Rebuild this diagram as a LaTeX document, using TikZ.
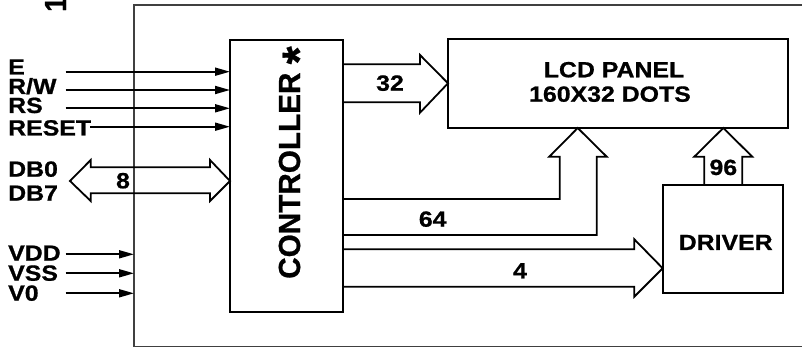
\documentclass[tikz,border=0pt]{standalone}
\usepackage{fontspec}
\setmainfont{Liberation Sans}[BoldFeatures={FakeBold=0.8}]
\usetikzlibrary{arrows.meta,calc}
\newcommand{\hs}[1]{\scalebox{1.13}[1]{#1}}
\newcommand{\vs}[1]{\scalebox{1.1}[1.13]{#1}}
\begin{document}
\begin{tikzpicture}[x=1pt,y=-1pt,
  box/.style={draw, line width=1.8pt, inner sep=0pt, outer sep=0pt},
  lbl/.style={font=\fontsize{22}{22}\selectfont\bfseries, inner sep=0pt, anchor=base west},
  num/.style={font=\fontsize{22}{22}\selectfont\bfseries, inner sep=0pt, anchor=base},
  sig/.style={line width=1.8pt, -{Triangle[length=15pt,width=8pt]}},
  bus/.style={line width=1.8pt, line join=miter},
  frm/.style={line width=1.5pt, draw=black!75}]
\useasboundingbox (0,0) rectangle (803,347);
% outer frame
\coordinate (fl) at (134,5);
\draw[frm] (801.7,5) -- (fl) -- (134,346.5) -- (801.7,346.5);
\node[rotate=90, anchor=base west, inner sep=0pt, font=\fontsize{27}{27}\selectfont\bfseries] (one) at (66,12) {\scalebox{1}[1.13]{1}};
% blocks
\node[box, minimum width=112.7pt, minimum height=271.7pt] (ctrl) at (286.35,175.85) {};
\node[box, minimum width=340pt, minimum height=89pt] (lcd) at (618,83.5) {};
\node[box, minimum width=120.3pt, minimum height=108pt] (drv) at (722.85,239) {};
\node[lbl, rotate=90, font=\fontsize{27}{27}\selectfont\bfseries] (ctrlt) at (300,279) {\vs{CONTROLLER \raisebox{-0.5em}{\scalebox{1.55}{*}}}};
\node[num] (lcd1) at (614,77.3) {\hs{LCD PANEL}};
\node[num] (lcd2) at (610,101.7) {\hs{160X32 DOTS}};
\node[num] (drvt) at (725.7,250) {\hs{DRIVER}};
% left labels
\node[lbl] (lE) at (8,74.5) {\hs{E}};
\node[lbl] (lRW) at (8,94) {\hs{R/W}};
\node[lbl] (lRS) at (8,113) {\hs{RS}};
\node[lbl] (lRST) at (8,135.5) {\hs{RESET}};
\node[lbl] (lDB0) at (8,176.7) {\hs{DB0}};
\node[lbl] (lDB7) at (8,200.7) {\hs{DB7}};
\node[lbl] (lVDD) at (8,260.7) {\hs{VDD}};
\node[lbl] (lVSS) at (8,280.7) {\hs{VSS}};
\node[lbl] (lV0) at (8,300.7) {\hs{V0}};
% signal arrows
\coordinate (sE) at (65.7,71.7);
\coordinate (sRW) at (65.7,90);
\coordinate (sRS) at (65.7,108.3);
\coordinate (sRST) at (90,126.7);
\draw[sig] (sE) -- (sE -| ctrl.west);
\draw[sig] (sRW) -- (sRW -| ctrl.west);
\draw[sig] (sRS) -- (sRS -| ctrl.west);
\draw[sig] (sRST) -- (sRST -| ctrl.west);
\coordinate (sVDD) at (65.7,254.3);
\coordinate (sVSS) at (65.7,273.3);
\coordinate (sV0) at (65.7,293.3);
\draw[sig] (sVDD) -- (sVDD -| fl);
\draw[sig] (sVSS) -- (sVSS -| fl);
\draw[sig] (sV0) -- (sV0 -| fl);
% data bus 8
\draw[bus] (90.7,167.3) -- (210,167.3) -- (210,160) -- (ctrl.west |- 0,181) -- (210,201) -- (210,193.3)
  -- (90.7,193.3) -- (90.7,201) -- (70,181) -- (90.7,160) -- cycle;
\node[num] (n8) at (123,188.3) {\hs{8}};
% bus 32
\draw[bus] (ctrl.east |- 0,64.3) -- (420,64.3) -- (420,55) -- (lcd.west |- 0,83.3) -- (420,112.7) -- (420,102.3) -- (ctrl.east |- 0,102.3);
\node[num] (n32) at (390,90.7) {\hs{32}};
% bus 64
\draw[bus] (ctrl.east |- 0,199) -- (559.7,199) -- (559.7,156.7) -- (549.3,156.7) -- (lcd.south -| 577.7,0) -- (606.7,156.7)
  -- (596.7,156.7) -- (596.7,235) -- (ctrl.east |- 0,235);
\node[num] (n64) at (432.7,226.7) {\hs{64}};
% bus 4
\draw[bus] (ctrl.east |- 0,249.3) -- (634.3,249.3) -- (634.3,239.3) -- (drv.west |- 0,268.3) -- (634.3,296.7) -- (634.3,286.7) -- (ctrl.east |- 0,286.7);
\node[num] (n4) at (520,278.3) {\hs{4}};
% bus 96
\draw[bus] (drv.north -| 704.3,0) -- (704.3,156.7) -- (694.3,156.7) -- (lcd.south -| 723.3,0) -- (752.3,156.7) -- (742.3,156.7) -- (drv.north -| 742.3,0);
\node[num] (n96) at (723.3,175) {\hs{96}};
\end{tikzpicture}
\end{document}
